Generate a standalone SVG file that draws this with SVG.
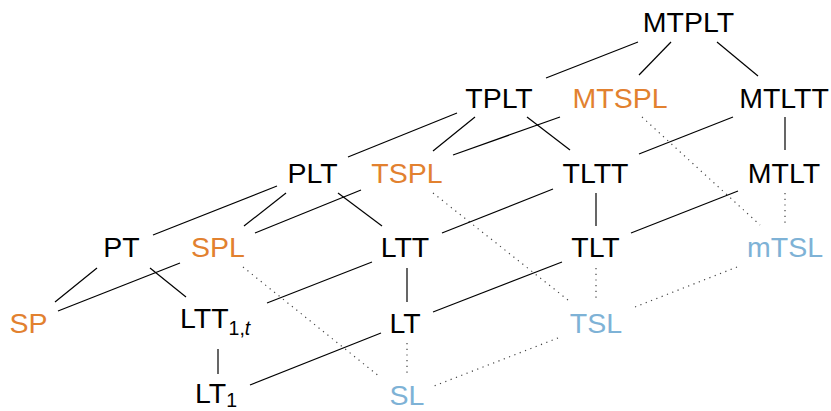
<svg xmlns="http://www.w3.org/2000/svg" width="831" height="411" viewBox="0 0 831 411">
  <style>
    text { font-family: "Liberation Sans", Arial, Helvetica, sans-serif; font-size: 28.5px; fill: #000; text-anchor: middle; }
    .or { fill: #E2812F; }
    .bl { fill: #7EB2D6; }
    .sub { font-size: 19.5px; }
    .it { font-style: italic; }
    .e { stroke: #000; stroke-width: 1.2; fill: none; }
    .d { stroke: #444; stroke-width: 1.2; fill: none; stroke-dasharray: 1.2 4.5; }
  </style>
  <rect width="831" height="411" fill="#fff"/>

  <g id="connectors">
    <line class="e" x1="638" y1="42" x2="546" y2="78"/>
    <line class="e" x1="671" y1="42" x2="639" y2="75"/>
    <line class="e" x1="717" y1="42" x2="758" y2="76"/>
    <line class="e" x1="457" y1="113" x2="348" y2="157"/>
    <line class="e" x1="475" y1="117" x2="433" y2="151"/>
    <line class="e" x1="560" y1="117" x2="453" y2="155"/>
    <line class="e" x1="527" y1="117" x2="570" y2="150"/>
    <line class="e" x1="733" y1="117" x2="639" y2="154"/>
    <line class="e" x1="785" y1="117" x2="785" y2="150"/>
    <line class="d" x1="642" y1="117" x2="760" y2="225"/>
    <line class="e" x1="277" y1="186" x2="153" y2="235"/>
    <line class="e" x1="286" y1="193" x2="244" y2="226"/>
    <line class="e" x1="361" y1="190" x2="255" y2="233"/>
    <line class="e" x1="338" y1="193" x2="382" y2="226"/>
    <line class="d" x1="433" y1="193" x2="568" y2="300"/>
    <line class="e" x1="553" y1="189" x2="442" y2="233"/>
    <line class="e" x1="596" y1="193" x2="596" y2="226"/>
    <line class="e" x1="738" y1="191" x2="631" y2="233"/>
    <line class="d" x1="785" y1="193" x2="785" y2="226"/>
    <line class="e" x1="97" y1="268" x2="55" y2="302"/>
    <line class="e" x1="180" y1="263" x2="58" y2="311"/>
    <line class="e" x1="150" y1="268" x2="186" y2="297"/>
    <line class="e" x1="372" y1="262" x2="267" y2="303"/>
    <line class="d" x1="243" y1="267" x2="380" y2="377"/>
    <line class="e" x1="407" y1="268" x2="407" y2="302"/>
    <line class="e" x1="562" y1="262" x2="433" y2="312"/>
    <line class="d" x1="596" y1="268" x2="596" y2="302"/>
    <line class="d" x1="737" y1="267" x2="635" y2="307"/>
    <line class="e" x1="218" y1="349" x2="218" y2="374"/>
    <line class="e" x1="381" y1="333" x2="250" y2="385"/>
    <line class="d" x1="407" y1="343" x2="407" y2="377"/>
    <line class="d" x1="558" y1="338" x2="434" y2="386"/>
  </g>

  <g id="MTPLT"><text x="688.5" y="32">MTPLT</text></g>
  <g id="TPLT"><text x="499" y="108">TPLT</text></g>
  <g id="MTSPL"><text class="or" x="620" y="108">MTSPL</text></g>
  <g id="MTLTT"><text x="784" y="108">MTLTT</text></g>
  <g id="PLT"><text x="312.5" y="183">PLT</text></g>
  <g id="TSPL"><text class="or" x="407" y="183">TSPL</text></g>
  <g id="TLTT"><text x="595.5" y="183">TLTT</text></g>
  <g id="MTLT"><text x="784" y="183">MTLT</text></g>
  <g id="PT"><text x="121.5" y="257">PT</text></g>
  <g id="SPL"><text class="or" x="218" y="257">SPL</text></g>
  <g id="LTT"><text x="405" y="257">LTT</text></g>
  <g id="TLT"><text x="595.5" y="257">TLT</text></g>
  <g id="mTSL"><text class="bl" x="785" y="257">mTSL</text></g>
  <g id="SP"><text class="or" x="28.5" y="333">SP</text></g>
  <g id="LTT1t"><text x="180" y="328" style="text-anchor:start">LTT<tspan class="sub" dy="7">1,</tspan><tspan class="sub it">t</tspan></text></g>
  <g id="LT"><text x="405" y="333">LT</text></g>
  <g id="TSL"><text class="bl" x="596" y="333">TSL</text></g>
  <g id="LT1"><text x="195" y="403" style="text-anchor:start">LT<tspan class="sub" dy="3.5">1</tspan></text></g>
  <g id="SL"><text class="bl" x="407" y="405">SL</text></g>
</svg>
